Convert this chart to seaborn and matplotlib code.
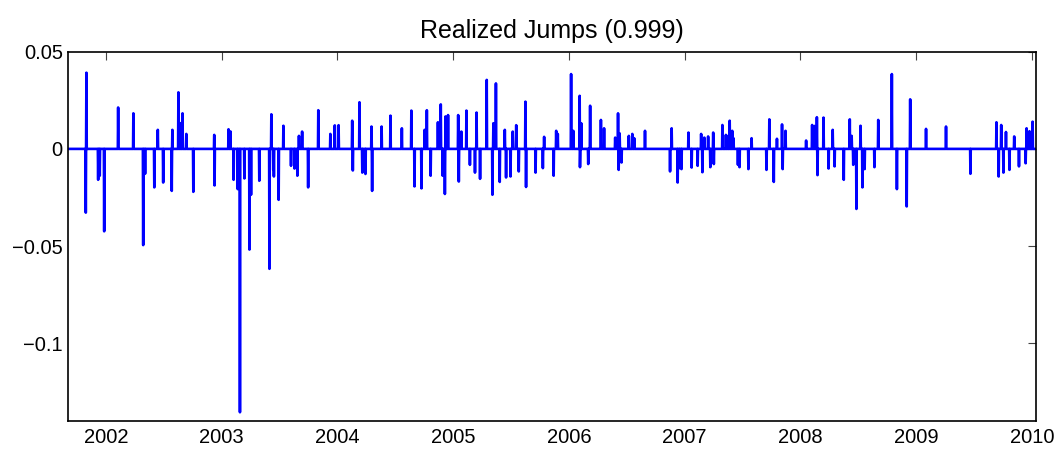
import matplotlib
matplotlib.use("Agg")
import matplotlib.pyplot as plt
import numpy as np
import pandas as pd
import seaborn as sns

# jump times (decimal years) and sizes
jump_time = [
    2001.827, 2001.832, 2001.933, 2001.947, 2001.987, 2002.106, 2002.239, 2002.322,
    2002.339, 2002.420, 2002.449, 2002.495, 2002.570, 2002.576, 2002.628, 2002.642,
    2002.662, 2002.697, 2002.755, 2002.936, 2002.941, 2003.060, 2003.077, 2003.103,
    2003.141, 2003.158, 2003.198, 2003.241, 2003.256, 2003.327, 2003.414, 2003.431,
    2003.447, 2003.452, 2003.492, 2003.535, 2003.600, 2003.631, 2003.654, 2003.669,
    2003.695, 2003.747, 2003.836, 2003.940, 2003.977, 2004.010, 2004.128, 2004.133,
    2004.191, 2004.217, 2004.243, 2004.295, 2004.300, 2004.382, 2004.460, 2004.558,
    2004.639, 2004.668, 2004.726, 2004.754, 2004.772, 2004.806, 2004.870, 2004.893,
    2004.910, 2004.928, 2004.934, 2004.957, 2005.044, 2005.049, 2005.070, 2005.116,
    2005.146, 2005.189, 2005.203, 2005.232, 2005.290, 2005.339, 2005.348, 2005.371,
    2005.402, 2005.446, 2005.458, 2005.495, 2005.515, 2005.544, 2005.567, 2005.624,
    2005.629, 2005.711, 2005.774, 2005.786, 2005.869, 2005.890, 2005.904, 2006.018,
    2006.038, 2006.092, 2006.097, 2006.107, 2006.168, 2006.183, 2006.278, 2006.304,
    2006.401, 2006.424, 2006.429, 2006.438, 2006.455, 2006.519, 2006.548, 2006.565,
    2006.658, 2006.874, 2006.888, 2006.940, 2006.957, 2006.972, 2007.033, 2007.059,
    2007.111, 2007.143, 2007.154, 2007.169, 2007.204, 2007.221, 2007.247, 2007.252,
    2007.325, 2007.357, 2007.371, 2007.388, 2007.412, 2007.423, 2007.461, 2007.475,
    2007.550, 2007.579, 2007.708, 2007.731, 2007.769, 2007.798, 2007.841, 2007.846,
    2007.870, 2008.050, 2008.102, 2008.119, 2008.143, 2008.148, 2008.200, 2008.243,
    2008.278, 2008.295, 2008.373, 2008.425, 2008.442, 2008.455, 2008.483, 2008.520,
    2008.535, 2008.555, 2008.639, 2008.671, 2008.789, 2008.832, 2008.919, 2008.949,
    2009.085, 2009.258, 2009.469, 2009.692, 2009.712, 2009.733, 2009.753, 2009.776,
    2009.805, 2009.846, 2009.889, 2009.945, 2009.954, 2009.977, 2010.006,
]
jump_size = [
    -0.0328, 0.0392, -0.0159, -0.0138, -0.0424, 0.0213, 0.0183, -0.0495,
    -0.0128, -0.0198, 0.0098, -0.0173, -0.0216, 0.0098, 0.0291, 0.0133,
    0.0183, 0.0077, -0.0221, 0.0072, -0.0188, 0.0101, 0.0090, -0.0159,
    -0.0207, -0.1355, -0.0152, -0.0518, -0.0236, -0.0164, -0.0617, 0.0178,
    -0.0108, -0.0142, -0.0262, 0.0119, -0.0087, -0.0101, -0.0138, 0.0067,
    0.0089, -0.0198, 0.0199, 0.0077, 0.0121, 0.0122, 0.0145, -0.0111,
    0.0240, -0.0122, -0.0129, 0.0115, -0.0216, 0.0115, 0.0171, 0.0106,
    0.0197, -0.0193, -0.0203, 0.0098, 0.0199, -0.0138, 0.0137, 0.0229,
    -0.0138, -0.0232, 0.0167, 0.0174, 0.0174, -0.0168, 0.0089, 0.0197,
    -0.0082, -0.0122, 0.0187, -0.0154, 0.0355, -0.0236, 0.0132, 0.0337,
    -0.0170, 0.0098, -0.0147, -0.0142, 0.0089, 0.0122, -0.0116, 0.0243,
    -0.0196, -0.0122, -0.0099, 0.0062, -0.0138, 0.0093, 0.0077, 0.0385,
    0.0093, 0.0273, -0.0094, 0.0132, -0.0078, 0.0222, 0.0149, 0.0106,
    0.0058, 0.0183, -0.0108, 0.0080, -0.0070, 0.0067, 0.0077, 0.0055,
    0.0093, -0.0116, 0.0106, -0.0173, -0.0099, -0.0104, 0.0084, -0.0096,
    -0.0087, 0.0077, -0.0120, 0.0058, 0.0064, -0.0094, 0.0084, -0.0078,
    0.0123, 0.0072, 0.0066, 0.0145, 0.0093, 0.0055, -0.0082, -0.0094,
    -0.0104, 0.0055, -0.0108, 0.0152, -0.0170, 0.0052, 0.0126, -0.0104,
    0.0093, 0.0043, 0.0123, 0.0118, 0.0163, -0.0135, 0.0161, -0.0101,
    0.0098, -0.0090, -0.0159, 0.0152, 0.0067, -0.0082, -0.0309, 0.0119,
    -0.0198, -0.0104, -0.0094, 0.0149, 0.0385, -0.0207, -0.0296, 0.0255,
    0.0103, 0.0115, -0.0128, 0.0137, -0.0142, 0.0123, -0.0122, 0.0087,
    -0.0108, 0.0064, -0.0090, -0.0074, 0.0106, 0.0091, 0.0140,
]
start_date = "2001-09-05"
end_date = "2010-01-13"
year_ticks = [2002, 2003, 2004, 2005, 2006, 2007, 2008, 2009, 2010]
value_ticks = [0.05, 0, -0.05, -0.1]
value_labels = ["0.05", "0", "\u22120.05", "\u22120.1"]

# daily series, zero except on jump days
days = pd.date_range(start_date, end_date, freq="D")
year_len = np.where(days.is_leap_year, 366.0, 365.0)
years = days.year + (days.dayofyear - 1) / year_len
jumps = np.zeros(len(days))
for t, v in zip(jump_time, jump_size):
    jumps[np.argmin(np.abs(years - t))] = v
df = pd.DataFrame({"year": years, "jump": jumps})

sns.set_style("white")
plt.rcParams["font.family"] = ["Liberation Sans", "DejaVu Sans"]
plt.rcParams["text.color"] = "black"

fig = plt.figure(figsize=(10.58, 4.5), dpi=100)
ax = fig.add_axes([0.0646, 0.0644, 0.9144, 0.8207])

sns.lineplot(data=df, x="year", y="jump", color="#0000ff", linewidth=1.9,
             estimator=None, sort=False, ax=ax)

ax.set_xlim(years[0], years[-1])
ax.set_ylim(-0.14, 0.05)
ax.set_xticks(year_ticks)
ax.set_xticklabels([str(y) for y in year_ticks])
ax.set_yticks(value_ticks)
ax.set_yticklabels(value_labels)
ax.set_xlabel("")
ax.set_ylabel("")
ax.set_title("Realized Jumps (0.999)", fontsize=18, color="black", pad=10)

ax.tick_params(direction="in", length=6, width=0.8, color="#444444",
               labelsize=14.5, labelcolor="black", top=True, right=True)
ax.tick_params(axis="x", pad=5)
ax.tick_params(axis="y", pad=4)
for sp in ax.spines.values():
    sp.set_visible(True)
    sp.set_color("black")
    sp.set_linewidth(1.2)

fig.savefig("out.png", dpi=100)
plt.close(fig)
